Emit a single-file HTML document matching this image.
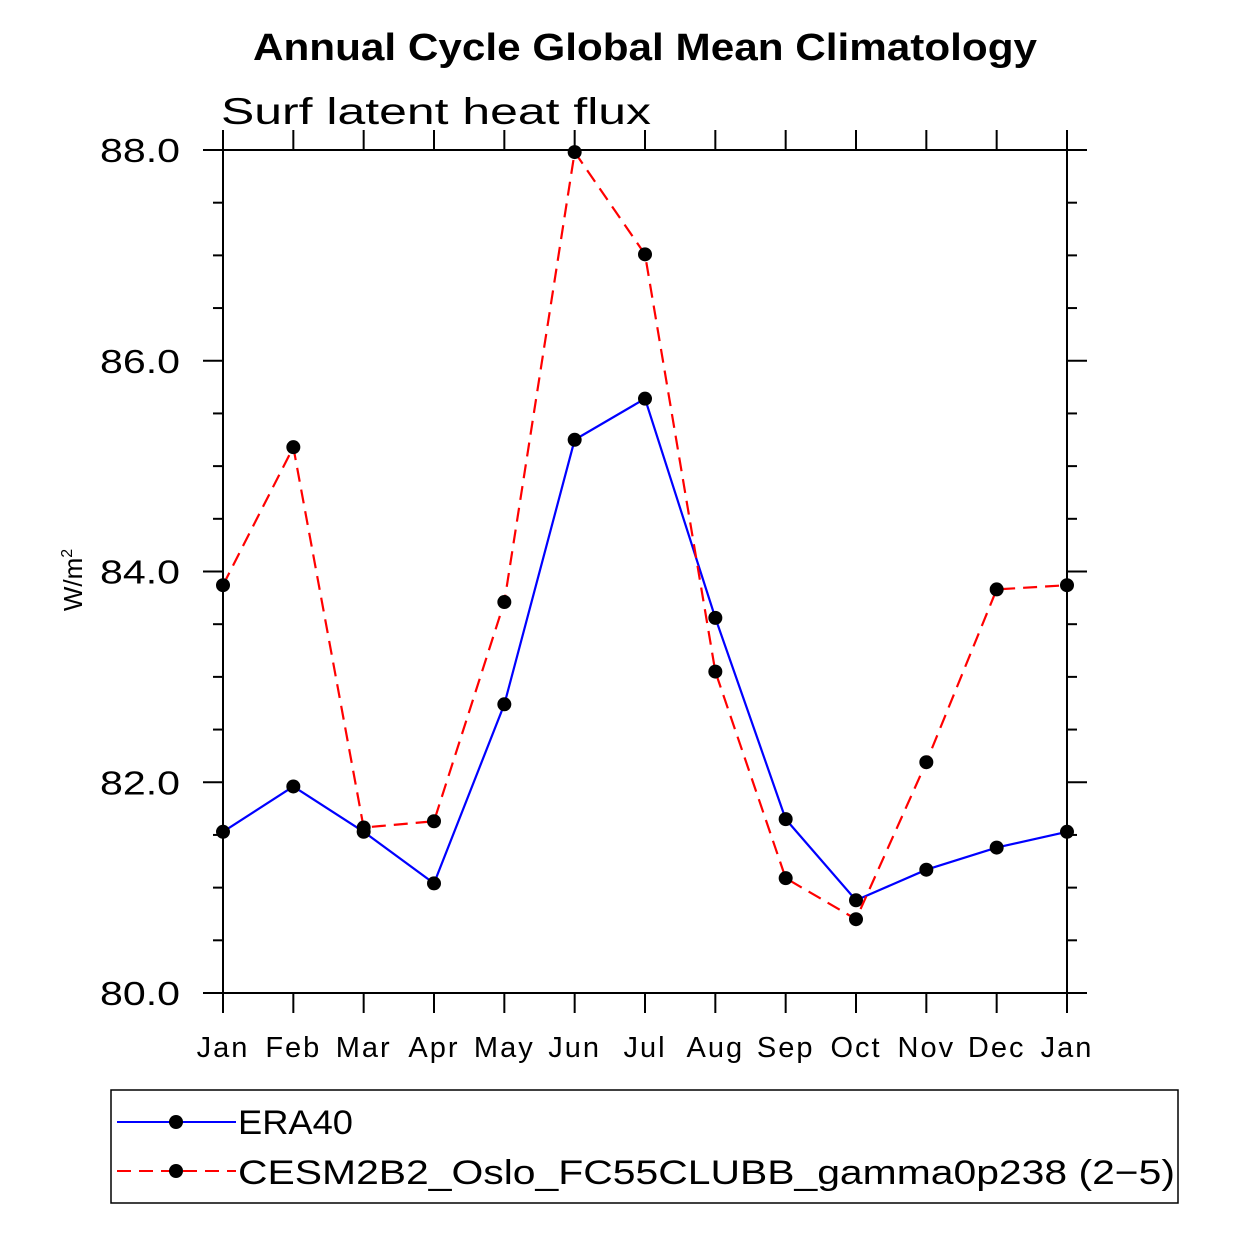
<!DOCTYPE html>
<html><head><meta charset="utf-8"><style>
body{margin:0;background:#fff}
svg{display:block;font-family:"Liberation Sans",sans-serif}
</style></head><body>
<svg width="1233" height="1233" viewBox="0 0 1233 1233">
<text x="253" y="60" textLength="784" lengthAdjust="spacingAndGlyphs" font-size="38" font-weight="bold">Annual Cycle Global Mean Climatology</text>
<text x="221" y="124" textLength="430" lengthAdjust="spacingAndGlyphs" font-size="37">Surf latent heat flux</text>
<g id="axes"></g>
<g id="series"></g>
<text transform="translate(82,580) rotate(-90)" text-anchor="middle" font-size="26">W/m<tspan dy="-10" font-size="16">2</tspan></text>
<rect x="111" y="1090" width="1067" height="113" fill="none" stroke="#000" stroke-width="1.5"/>
<g>
<line x1="117" y1="1122" x2="236" y2="1122" stroke="#00f" stroke-width="2"/>
<circle cx="176" cy="1122" r="7"/>
<text x="238" y="1134" textLength="115" lengthAdjust="spacingAndGlyphs" font-size="34">ERA40</text>
</g>
<g>
<line x1="117" y1="1171" x2="236" y2="1171" stroke="#f00" stroke-width="2" stroke-dasharray="14,8"/>
<circle cx="176" cy="1171" r="7"/>
<text x="238" y="1184" textLength="937" lengthAdjust="spacingAndGlyphs" font-size="34">CESM2B2_Oslo_FC55CLUBB_gamma0p238 (2−5)</text>
</g>
</svg>
<script>
const months=["Jan","Feb","Mar","Apr","May","Jun","Jul","Aug","Sep","Oct","Nov","Dec","Jan"];
const era40=[81.53,81.96,81.53,81.04,82.74,85.25,85.64,83.56,81.65,80.88,81.17,81.38,81.53];
const cesm=[83.87,85.18,81.57,81.63,83.71,87.98,87.01,83.05,81.09,80.70,82.19,83.83,83.87];
const yTicks=[80,82,84,86,88];
const yTickLabels=["80.0","82.0","84.0","86.0","88.0"];
const NS="http://www.w3.org/2000/svg";
const L=223,R=1067,T=150,B=993,ymin=80,ymax=88;
const xs=i=>L+(R-L)*i/(months.length-1);
const ys=v=>B-(B-T)*(v-ymin)/(ymax-ymin);
function mk(tag,attrs,parent){const e=document.createElementNS(NS,tag);for(const k in attrs)e.setAttribute(k,attrs[k]);parent.appendChild(e);return e;}
const ax=document.getElementById('axes');
const frame=mk('rect',{x:L,y:T,width:R-L,height:B-T,fill:'none',stroke:'#000','stroke-width':2},ax);


months.forEach((m,i)=>{
 const x=xs(i);
 mk('line',{x1:x,y1:B,x2:x,y2:B+20,stroke:'#000','stroke-width':2},ax);
 mk('line',{x1:x,y1:T,x2:x,y2:T-20,stroke:'#000','stroke-width':2},ax);
 const t=mk('text',{x:x,y:B+64,'text-anchor':'middle','font-size':29,'letter-spacing':2},ax);
 t.textContent=m;
 
 
});
for(let v=ymin;v<=ymax+1e-9;v+=0.5){
 const y=ys(v);const major=Math.abs(v-Math.round(v/2)*2)<1e-9;
 const len=major?20:10;
 mk('line',{x1:L,y1:y,x2:L-len,y2:y,stroke:'#000','stroke-width':2},ax);
 mk('line',{x1:R,y1:y,x2:R+len,y2:y,stroke:'#000','stroke-width':2},ax);
}
yTicks.forEach((v,i)=>{
 const t=mk('text',{x:100,y:ys(v)+12,textLength:80,lengthAdjust:'spacingAndGlyphs','font-size':33},ax);
 t.textContent=yTickLabels[i];
 
 
});
const sg=document.getElementById('series');
function draw(vals,color,dash,name){
 const g=mk('g',{},sg);
 
 
 const p=mk('polyline',{points:vals.map((v,i)=>xs(i)+','+ys(v)).join(' '),fill:'none',stroke:color,'stroke-width':2.2},g);
 if(dash)p.setAttribute('stroke-dasharray',dash);
 vals.forEach((v,i)=>{
  const c=mk('circle',{cx:xs(i),cy:ys(v),r:7,fill:'#000'},g);
  
  
 });
}
draw(era40,'#00f',null,'series-era40');
draw(cesm,'#f00','14,8','series-cesm2');
</script>
</body></html>
